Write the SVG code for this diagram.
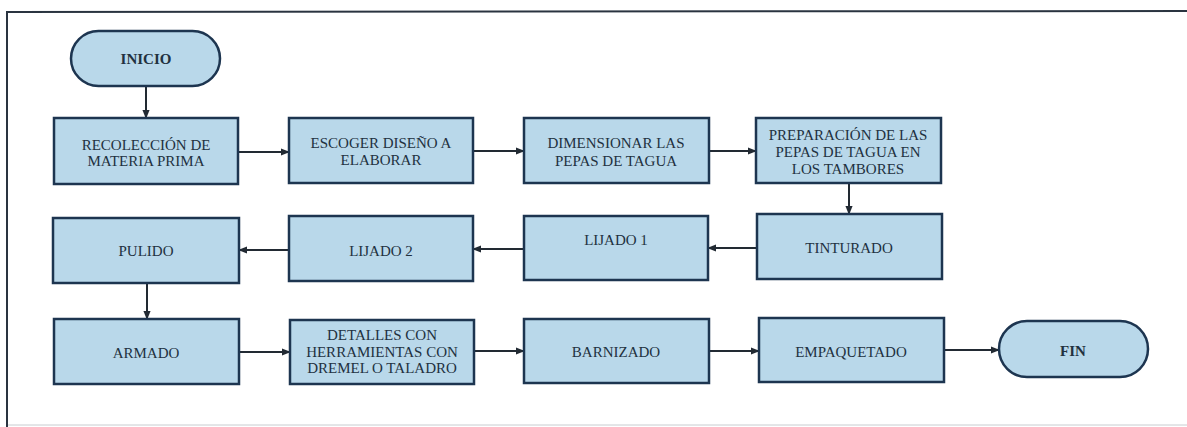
<svg xmlns="http://www.w3.org/2000/svg" width="1187" height="427" viewBox="0 0 1187 427">
<defs>
<style>
.box{fill:#b9d8ea;stroke:#1d3550;stroke-width:2.5}
.t{font-family:'Liberation Serif','Times New Roman',serif;font-size:15px;fill:#22313f;text-anchor:middle}
.b{font-weight:bold}
.c{stroke:#222a33;stroke-width:2;fill:none;marker-end:url(#ah)}
</style>
<marker id="ah" viewBox="0 0 10 10" refX="9" refY="5" markerWidth="4.5" markerHeight="4.5" orient="auto" markerUnits="strokeWidth">
<path d="M0,1 L10,5 L0,9 Z" fill="#222a33"/>
</marker>
</defs>
<rect width="1187" height="427" fill="#ffffff"/>
<g id="frame">
<path d="M1187,11 L7,12 L7,427" fill="none" stroke="#2a3440" stroke-width="2"/>
<path d="M8,425 L1187,425" fill="none" stroke="#c8ccd0" stroke-width="1"/>
</g>
<g id="connectors">
<path class="c" d="M146,86 V118"/>
<path class="c" d="M238,152 H289"/>
<path class="c" d="M473,151 H524"/>
<path class="c" d="M709,151 H756"/>
<path class="c" d="M849,183 V214"/>
<path class="c" d="M757,248 H708"/>
<path class="c" d="M524,249 H473"/>
<path class="c" d="M289,250 H239"/>
<path class="c" d="M147,283 V319"/>
<path class="c" d="M239,352 H290"/>
<path class="c" d="M474,351 H524"/>
<path class="c" d="M709,351 H759"/>
<path class="c" d="M944,350 H999"/>
</g>
<g id="inicio"><rect class="box" x="71" y="31" width="149" height="55" rx="27.5"/><text class="t b" x="146" y="64">INICIO</text></g>
<g id="recoleccion"><rect class="box" x="54" y="118" width="184" height="66"/><text class="t" x="146" y="150">RECOLECCIÓN DE</text><text class="t" x="146" y="166">MATERIA PRIMA</text></g>
<g id="escoger"><rect class="box" x="289" y="118" width="184" height="65"/><text class="t" x="381" y="148">ESCOGER DISEÑO A</text><text class="t" x="381" y="165">ELABORAR</text></g>
<g id="dimensionar"><rect class="box" x="524" y="118" width="185" height="65"/><text class="t" x="616" y="148">DIMENSIONAR LAS</text><text class="t" x="616" y="166">PEPAS DE TAGUA</text></g>
<g id="preparacion"><rect class="box" x="756" y="118" width="185" height="65"/><text class="t" x="848" y="140">PREPARACIÓN DE LAS</text><text class="t" x="848" y="157">PEPAS DE TAGUA EN</text><text class="t" x="848" y="174">LOS TAMBORES</text></g>
<g id="tinturado"><rect class="box" x="757" y="214" width="185" height="65"/><text class="t" x="849" y="253">TINTURADO</text></g>
<g id="lijado1"><rect class="box" x="524" y="216" width="184" height="64"/><text class="t" x="616" y="245">LIJADO 1</text></g>
<g id="lijado2"><rect class="box" x="289" y="216" width="184" height="65"/><text class="t" x="381" y="256">LIJADO 2</text></g>
<g id="pulido"><rect class="box" x="53" y="218" width="186" height="65"/><text class="t" x="146" y="256">PULIDO</text></g>
<g id="armado"><rect class="box" x="54" y="319" width="185" height="65"/><text class="t" x="146" y="358">ARMADO</text></g>
<g id="detalles"><rect class="box" x="290" y="320" width="184" height="64"/><text class="t" x="382" y="340">DETALLES CON</text><text class="t" x="382" y="357">HERRAMIENTAS CON</text><text class="t" x="382" y="373">DREMEL O TALADRO</text></g>
<g id="barnizado"><rect class="box" x="524" y="319" width="185" height="64"/><text class="t" x="616" y="357">BARNIZADO</text></g>
<g id="empaquetado"><rect class="box" x="759" y="318" width="185" height="64"/><text class="t" x="851" y="357">EMPAQUETADO</text></g>
<g id="fin"><rect class="box" x="999" y="321" width="149" height="56" rx="28"/><text class="t b" x="1073" y="356">FIN</text></g>
</svg>
